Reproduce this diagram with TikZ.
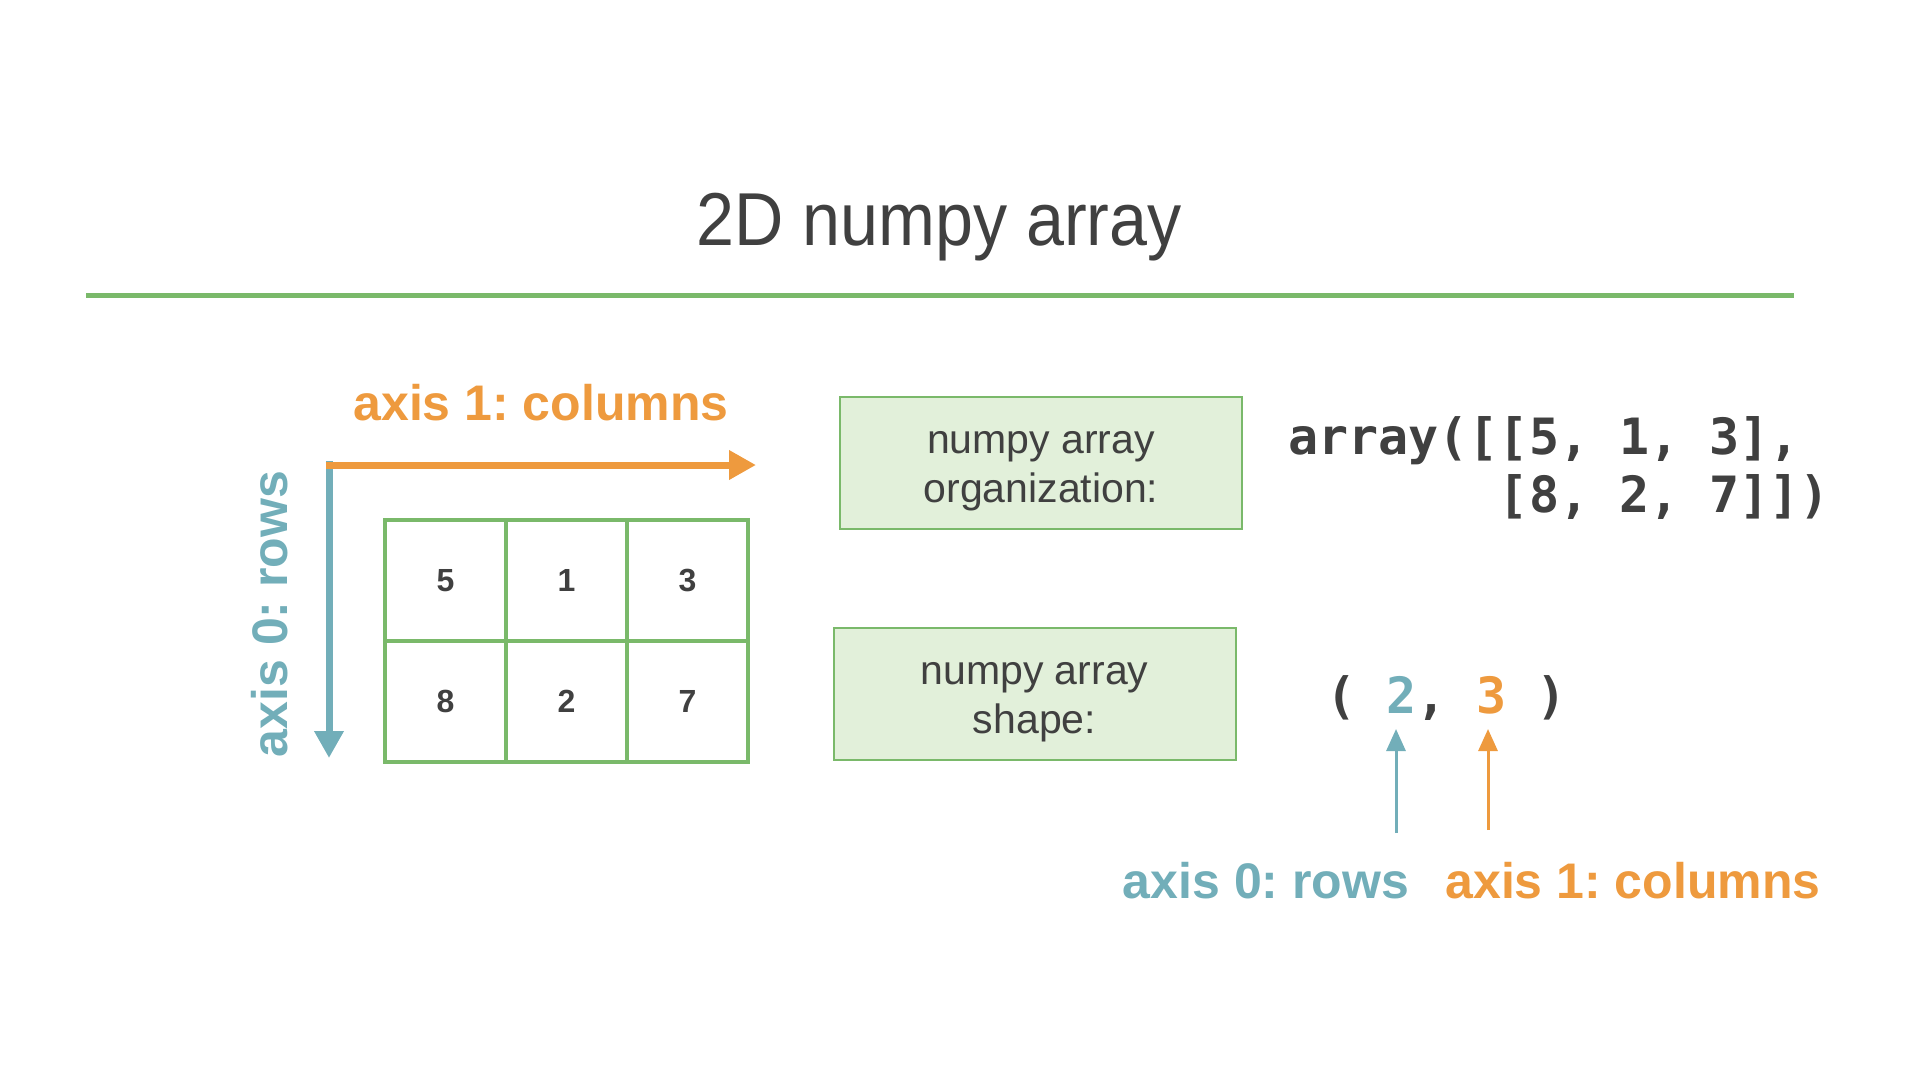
\documentclass[tikz,border=0pt]{standalone}
\usepackage{fontspec}
\setmainfont{Liberation Sans}
\setmonofont{DejaVu Sans Mono}
\newfontfamily\titlefont[FakeStretch=0.91]{Liberation Sans}
\usetikzlibrary{arrows.meta}
\definecolor{txt}{HTML}{404040}
\definecolor{grn}{HTML}{7AB96A}
\definecolor{boxfill}{HTML}{E2F0DA}
\definecolor{orng}{HTML}{EE9A3E}
\definecolor{teal}{HTML}{72AEB9}
\frenchspacing
\begin{document}
\begin{tikzpicture}[x=1pt,y=-1pt,
  titlestyle/.style={font=\titlefont\fontsize{75}{90}\selectfont, text=txt, anchor=base, inner sep=0pt},
  axlabel/.style={font=\bfseries\fontsize{50}{60}\selectfont, anchor=base, inner sep=0pt},
  cell/.style={draw=grn, line width=4pt, minimum size=121pt, inner sep=0pt, font=\bfseries\fontsize{32}{38}\selectfont, text=txt},
  infobox/.style={draw=grn, line width=2pt, fill=boxfill, minimum width=402pt, minimum height=132pt, inner sep=0pt},
  boxtext/.style={align=center, font=\fontsize{41}{49}\selectfont, text=txt, inner sep=0pt},
  codestyle/.style={font=\ttfamily\bfseries\fontsize{50}{58}\selectfont, text=txt, anchor=base west, inner sep=0pt},
  axisarrow/.style={line width=7pt, -{Triangle[length=27pt,width=28pt]}},
  pencil/.style={line width=3pt, -{Triangle[length=22pt,width=19pt]}}
]
\useasboundingbox (0,0) rectangle (1920,1080);

% title and rule
\node[titlestyle] (title) at (939,245) {2D numpy array};
\coordinate (ruleL) at (86,295);
\coordinate (ruleR) at (1794,295);
\draw[grn, line width=5pt] (ruleL) -- (ruleR);

% axis arrows
\coordinate (vstart) at (329,461);
\coordinate (vend) at (329,758);
\coordinate (hstart) at (325.5,465);
\coordinate (hend) at (756,465);
\draw[axisarrow, teal] (vstart) -- (vend);
\draw[axisarrow, orng] (hstart) -- (hend);
\node[axlabel, text=orng] (lab1) at (541,420) {axis 1: columns};
\node[axlabel, text=teal, rotate=90] (lab0) at (287,614) {axis 0: rows};

% grid
\node[cell] (c11) at (445.5,580.5) {5};
\node[cell] (c12) at (566.5,580.5) {1};
\node[cell] (c13) at (687.5,580.5) {3};
\node[cell] (c21) at (445.5,701.5) {8};
\node[cell] (c22) at (566.5,701.5) {2};
\node[cell] (c23) at (687.5,701.5) {7};

% boxes
\node[infobox] (org) at (1041,463) {};
\node[boxtext] (orgtext) at ([yshift=-8pt]org.center) {numpy array\\organization:};
\node[infobox] (shp) at (1034.5,694) {};
\node[boxtext] (shptext) at ([yshift=-8pt]shp.center) {numpy array\\shape:};

% code
\node[codestyle] (code1) at (1288,454) {array([[5, 1, 3],};
\node[codestyle] (code2) at (1498.7,512) {[8, 2, 7]])};
\node[codestyle] (tuple) at (1326,713) {( {\color{teal}2}, {\color{orng}3} )};

% pencil arrows
\coordinate (p0) at (1396,833);
\coordinate (t0) at (1396,729);
\coordinate (p1) at (1488,830);
\coordinate (t1) at (1488,729);
\draw[pencil, teal] (p0) -- (t0);
\draw[pencil, orng] (p1) -- (t1);

\node[axlabel, text=teal] (blab0) at (1266,898) {axis 0: rows};
\node[axlabel, text=orng] (blab1) at (1633,898) {axis 1: columns};
\end{tikzpicture}
\end{document}
